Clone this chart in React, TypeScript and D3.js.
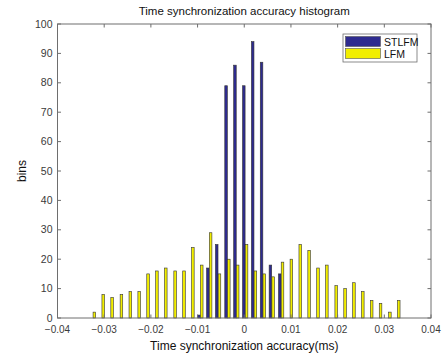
import React from 'react';
import * as d3 from 'd3';

// bin centres (ms)
const binCenters = [
  -0.0324, -0.0305, -0.0286, -0.0266, -0.0247, -0.0228, -0.0209, -0.0190, -0.0171,
  -0.0151, -0.0132, -0.0113, -0.0094, -0.0075, -0.0056, -0.0036, -0.0017, 0.0002,
  0.0021, 0.0040, 0.0059, 0.0079, 0.0098, 0.0117, 0.0136, 0.0155, 0.0174, 0.0194,
  0.0213, 0.0232, 0.0251, 0.0270, 0.0289, 0.0309, 0.0328,
];

const stlfmCounts = [
  0, 0, 0, 0, 0, 0, 0, 0, 0, 0, 0, 0, 1, 17, 25, 79, 86, 79,
  94, 87, 18, 15, 0, 0, 0, 0, 0, 0, 0, 0, 0, 0, 0, 0, 0,
];

const lfmCounts = [
  2, 8, 7, 8, 9, 9, 15, 16, 17, 16, 16, 24, 18, 29, 15, 20, 18, 25,
  16, 15, 14, 19, 20, 25, 23, 17, 18, 11, 10, 12, 9, 6, 5, 2, 6,
];

const xTicks = [-0.04, -0.03, -0.02, -0.01, 0, 0.01, 0.02, 0.03, 0.04];
const yTicks = [0, 10, 20, 30, 40, 50, 60, 70, 80, 90, 100];

const seriesInfo = [
  { name: 'STLFM', counts: stlfmCounts, color: '#2e2b8f' },
  { name: 'LFM', counts: lfmCounts, color: '#f2ee00' },
];

export default function App() {
  const W = 443;
  const H = 358;
  const margin = { top: 24, right: 12, bottom: 40, left: 57.5 };
  const iw = W - margin.left - margin.right;
  const ih = H - margin.top - margin.bottom;

  const x = d3.scaleLinear().domain([-0.04, 0.04]).range([0, iw]);
  const y = d3.scaleLinear().domain([0, 100]).range([ih, 0]);

  const step = binCenters[1] - binCenters[0];
  const barW = x(step * 0.29) - x(0);
  const offset = x(step * 0.155) - x(0);

  const axisColor = '#6e6e6e';
  const textColor = '#3a3a3a';
  const font = '"Liberation Sans", Arial, sans-serif';

  return (
    <svg width={W} height={H} style={{ position: 'absolute', left: 0, top: 0, background: '#fff' }} fontFamily={font}>
      <text x={margin.left + iw / 2} y={15} textAnchor="middle" fontSize={11.5} fill="#111">
        Time synchronization accuracy histogram
      </text>
      <g transform={`translate(${margin.left},${margin.top})`}>
        {seriesInfo.map((s, si) => (
          <g key={s.name}>
            {s.counts.map((c, i) =>
              c > 0 ? (
                <rect
                  key={i}
                  x={x(binCenters[i]) + (si === 0 ? -offset : offset) - barW / 2}
                  y={y(c)}
                  width={barW}
                  height={ih - y(c)}
                  fill={s.color}
                  stroke="#333"
                  strokeWidth={0.6}
                />
              ) : null
            )}
          </g>
        ))}

        {/* box */}
        <rect x={0} y={0} width={iw} height={ih} fill="none" stroke={axisColor} strokeWidth={1} />

        {xTicks.map((t) => (
          <g key={t}>
            <line x1={x(t)} x2={x(t)} y1={ih} y2={ih - 3.5} stroke={axisColor} />
            <line x1={x(t)} x2={x(t)} y1={0} y2={3.5} stroke={axisColor} />
            <text x={x(t)} y={ih + 15} textAnchor="middle" fontSize={10} fill={textColor}>
              {t === 0 ? '0' : d3.format('.2f')(t)}
            </text>
          </g>
        ))}
        {yTicks.map((t) => (
          <g key={t}>
            <line x1={0} x2={3.5} y1={y(t)} y2={y(t)} stroke={axisColor} />
            <line x1={iw} x2={iw - 3.5} y1={y(t)} y2={y(t)} stroke={axisColor} />
            <text x={-5} y={y(t) + 3.5} textAnchor="end" fontSize={10.5} fill={textColor}>
              {t}
            </text>
          </g>
        ))}

        {/* legend */}
        <g transform={`translate(${iw - 88},10)`}>
          <rect x={0} y={0} width={74} height={28} fill="#fff" stroke={axisColor} strokeWidth={0.8} />
          {seriesInfo.map((s, i) => (
            <g key={s.name} transform={`translate(2,${2.5 + i * 12})`}>
              <rect x={0.5} y={0} width={35} height={10} fill={s.color} stroke="#555" strokeWidth={0.6} />
              <text x={39} y={9} fontSize={10.5} fill="#111">
                {s.name}
              </text>
            </g>
          ))}
        </g>
      </g>
      <text x={margin.left + iw / 2} y={350} textAnchor="middle" fontSize={12} fill="#111">
        Time synchronization accuracy(ms)
      </text>
      <text transform={`translate(26,${margin.top + ih / 2}) rotate(-90)`} textAnchor="middle" fontSize={12} fill="#111">
        bins
      </text>
    </svg>
  );
}
